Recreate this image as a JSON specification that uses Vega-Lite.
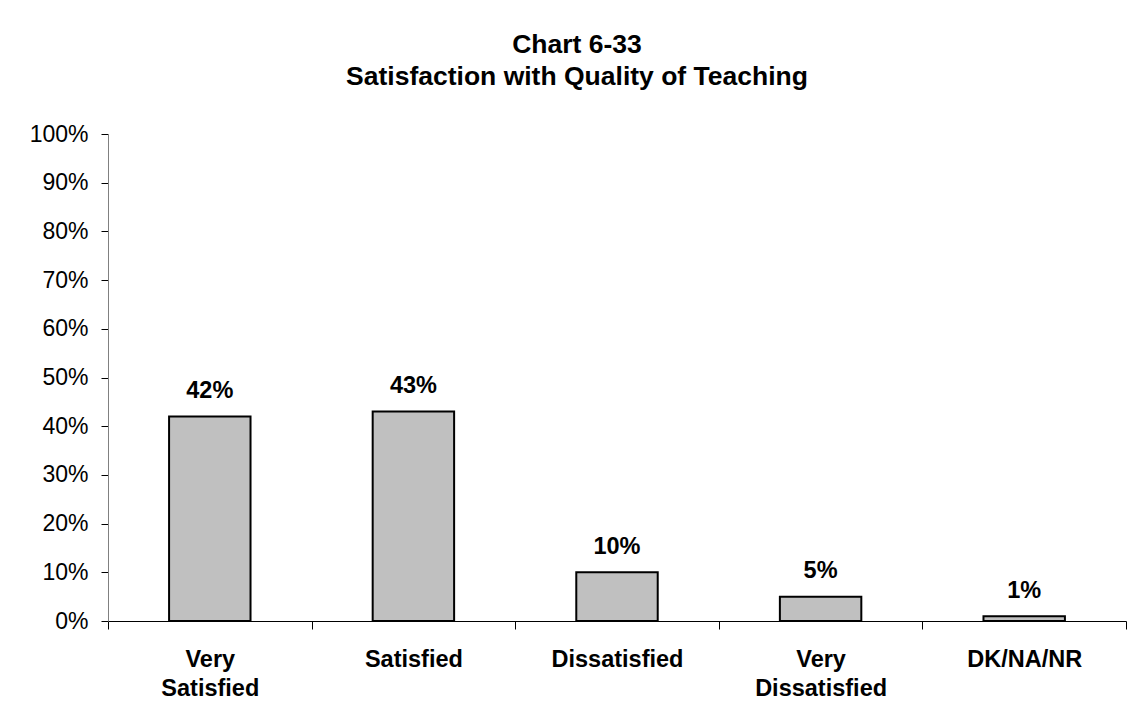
{
  "$schema": "https://vega.github.io/schema/vega-lite/v6.json",
  "width": 1018,
  "height": 487,
  "padding": {"left": 29, "top": 31, "right": 5, "bottom": 5},
  "background": "white",
  "config": {
    "view": {"stroke": null},
    "font": "Liberation Sans"
  },
  "title": {
    "text": ["Chart 6-33", "Satisfaction with Quality of Teaching"],
    "font": "Liberation Sans",
    "fontSize": 26.5,
    "fontWeight": "bold",
    "color": "#000000",
    "lineHeight": 32,
    "anchor": "middle",
    "frame": "group",
    "dx": -40,
    "offset": 33
  },
  "data": {
    "values": [
      {"category": "Very Satisfied", "share": 0.42},
      {"category": "Satisfied", "share": 0.43},
      {"category": "Dissatisfied", "share": 0.10},
      {"category": "Very Dissatisfied", "share": 0.05},
      {"category": "DK/NA/NR", "share": 0.01}
    ]
  },
  "encoding": {
    "x": {
      "field": "category",
      "type": "nominal",
      "sort": null,
      "scale": {"paddingInner": 0, "paddingOuter": 0},
      "axis": {
        "title": null,
        "labelAngle": 0,
        "labelExpr": "split(datum.label, ' ')",
        "labelFont": "Liberation Sans",
        "labelFontSize": 23.5,
        "labelFontWeight": "bold",
        "labelColor": "#000000",
        "labelLineHeight": 29,
        "labelPadding": 18,
        "labelBaseline": "top",
        "tickBand": "extent",
        "tickSize": 8,
        "tickColor": "#000000",
        "domainColor": "#000000",
        "domainWidth": 1,
        "grid": false
      }
    },
    "y": {
      "field": "share",
      "type": "quantitative",
      "scale": {"domain": [0, 1], "nice": false, "zero": true},
      "axis": {
        "title": null,
        "values": [0, 0.1, 0.2, 0.3, 0.4, 0.5, 0.6, 0.7, 0.8, 0.9, 1],
        "format": ".0%",
        "labelFont": "Liberation Sans",
        "labelFontSize": 23,
        "labelColor": "#000000",
        "labelPadding": 13,
        "tickSize": 7,
        "tickColor": "#000000",
        "domainColor": "#808080",
        "grid": false
      }
    }
  },
  "layer": [
    {
      "mark": {
        "type": "bar",
        "width": {"band": 0.4},
        "fill": "#c0c0c0",
        "stroke": "#000000",
        "strokeWidth": 2
      }
    },
    {
      "mark": {
        "type": "text",
        "font": "Liberation Sans",
        "fontSize": 23.5,
        "fontWeight": "bold",
        "color": "#000000",
        "baseline": "alphabetic",
        "dy": -18.5
      },
      "encoding": {
        "text": {"field": "share", "type": "quantitative", "format": ".0%"}
      }
    }
  ]
}
